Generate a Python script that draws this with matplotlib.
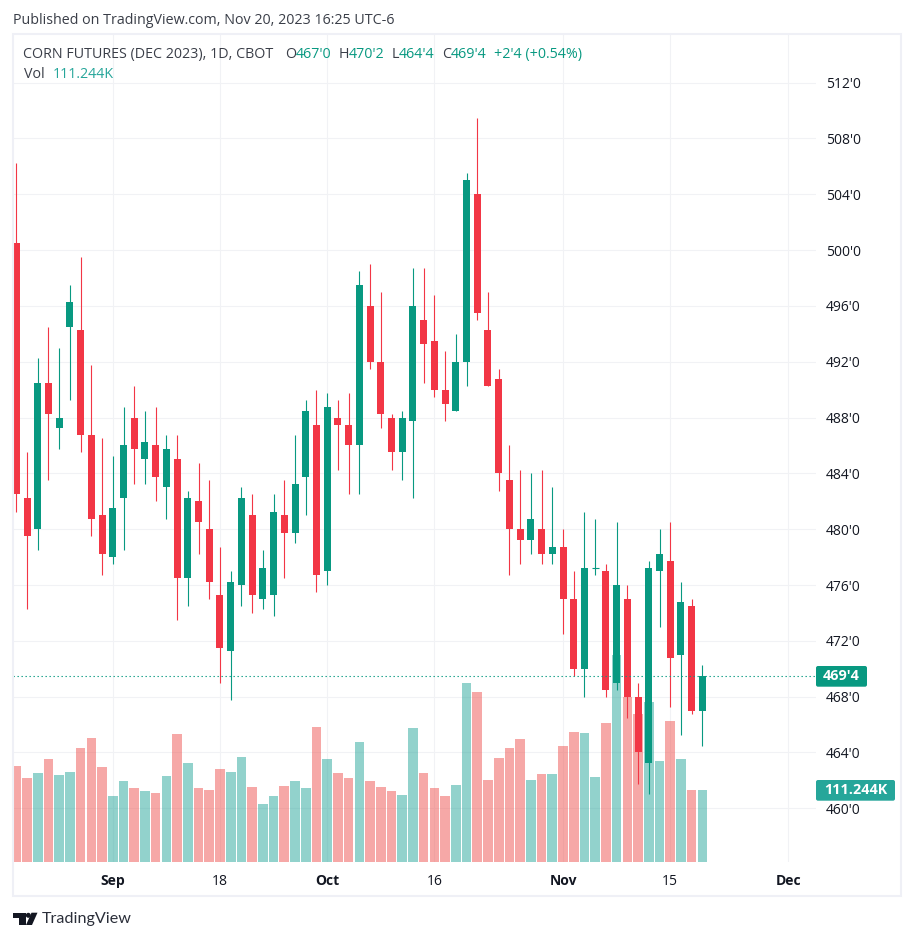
"""Corn futures (Dec 2023) daily candles with volume, TradingView snapshot style."""

import matplotlib
matplotlib.use("Agg")
import matplotlib.pyplot as plt
from matplotlib.patches import Circle, FancyBboxPatch, Polygon, Rectangle

plt.rcParams["font.family"] = ["Open Sans", "DejaVu Sans"]

# ── Data ──────────────────────────────────────────────────────────────────────
opens = [
    500.5, 482.25, 480, 490.5, 487.25, 494.5, 494.25, 486.75, 481, 478,
    482.25, 488, 485, 486, 483, 485, 476.5, 482, 480, 475.25,
    471.25, 476, 481, 475, 475.25, 481, 479.75, 483.75, 487.5, 477,
    488, 487.5, 486, 496, 492, 488, 485.5, 487.75, 495, 493.5,
    490, 488.5, 492, 504, 494.25, 490.75, 483.5, 480, 479.25, 480,
    478.25, 478.75, 475, 470, 477.25, 477, 469, 475, 468, 463.25,
    477, 477.75, 471, 474.5, 467,
]
highs = [
    506.25, 485.5, 492.25, 494.5, 493, 497.5, 499.5, 491.75, 486.5, 485.25,
    488.75, 490.25, 488.5, 488.75, 486.75, 486.75, 482.75, 484.75, 483.5, 478.75,
    477, 483, 482.5, 478.5, 482.5, 483.5, 486.75, 489.25, 490, 489.75,
    489.25, 489.75, 498.5, 499, 497, 488.25, 488.5, 498.75, 498.75, 496.75,
    492.75, 494, 505.5, 509.5, 497, 491.5, 486, 484.25, 484, 484.25,
    483, 480, 477, 481.25, 480.75, 477.5, 480.5, 476, 469, 477.75,
    480, 480.5, 476.25, 475, 470.25,
]
lows = [
    481.25, 474.25, 478.5, 483.5, 485.75, 489.25, 485.5, 479.5, 476.75, 477.5,
    478.5, 483.25, 483.25, 482, 480.75, 473.5, 474.5, 478.25, 475, 469,
    467.75, 474.5, 474, 474.25, 473.75, 476.5, 479, 481, 475.5, 476,
    484.25, 482.5, 482.5, 491.5, 487.25, 484.25, 483.5, 482.25, 490.5, 489.5,
    487.75, 488.5, 490.25, 495, 490.25, 482.75, 476.75, 477.5, 478.25, 477.5,
    477.5, 472.5, 469.5, 468, 476.75, 468, 468.5, 466.5, 461.75, 461,
    473, 467.25, 465.25, 466.75, 464.5,
]
closes = [
    482.5, 479.5, 490.5, 488.25, 488, 496.25, 486.75, 480.75, 478.25, 481.5,
    486, 485.75, 486.25, 483.75, 485.75, 476.5, 482.25, 480.5, 476.25, 471.5,
    476.25, 482.25, 475.25, 477.25, 481.25, 479.75, 483.25, 488.5, 476.75, 488.75,
    487.5, 486, 497.5, 492, 488.25, 485.5, 488, 496, 493.25, 490,
    489, 492, 505, 495.5, 490.25, 484, 480, 479.25, 480.75, 478.25,
    478.75, 475, 470, 477.25, 477.25, 468.5, 476, 468, 464, 477.25,
    478.25, 470.75, 474.75, 467, 469.5,
]
# thousands of contracts
volumes = [
    148.3, 129.8, 137.5, 159.1, 134.4, 139.1, 176.1, 191.6, 146.8, 102,
    125.1, 114.3, 109.7, 106.6, 132.9, 197.8, 153, 114.3, 111.2, 143.7,
    139.1, 162.2, 115.9, 89.6, 102, 117.4, 125.1, 114.3, 208.6, 159.1,
    137.5, 129.8, 185.4, 125.1, 115.9, 109.7, 103.5, 207, 137.5, 114.3,
    102, 119, 276.6, 262.7, 126.7, 160.7, 176.1, 190, 126.7, 136,
    136, 179.2, 200.9, 199.3, 131.3, 214.8, 319.8, 254.9, 228.7, 247.2,
    156, 217.8, 159.1, 111.0, 111.244,
]
price_ticks = [460, 464, 468, 472, 476, 480, 484, 488, 492, 496, 500, 504, 508, 512]
date_positions = [9, 19, 29, 39, 51, 61, 72]
date_labels = ["Sep", "18", "Oct", "16", "Nov", "15", "Dec"]
date_bold = [True, False, True, False, True, False, True]
last_price = 469.5

# ── Layout, in pixels of the 914x941 picture ──────────────────────────────────
W, H = 914, 941
PANE_LEFT, PANE_RIGHT, PANE_TOP, PANE_BOTTOM = 13.3, 816, 35, 862
FIRST_BAR_X, BAR_STEP = 16.3, 10.72
Y_460, PX_PER_CENT = 808.3, 13.955
PX_PER_KVOL = 1 / 1.545

UP, DOWN = "#089981", "#f23645"
VOL_UP, VOL_DOWN = "#26a69a", "#ef5350"
GRID = "#f1f2f5"
FRAME = "#eff0f6"
TEXT = "#131722"
LEGEND_TEXT = "#3a3e48"

fig = plt.figure(figsize=(W / 100, H / 100), dpi=100, facecolor="white")
rect = [PANE_LEFT / W, 1 - PANE_BOTTOM / H, (PANE_RIGHT - PANE_LEFT) / W, (PANE_BOTTOM - PANE_TOP) / H]

xlim = ((PANE_LEFT - FIRST_BAR_X) / BAR_STEP, (PANE_RIGHT - FIRST_BAR_X) / BAR_STEP)
ylim = (460 - (PANE_BOTTOM - Y_460) / PX_PER_CENT, 460 + (Y_460 - PANE_TOP) / PX_PER_CENT)

# grid and both axes at the back
ax = fig.add_axes(rect)
ax.set_xlim(xlim)
ax.set_ylim(ylim)
ax.yaxis.tick_right()
ax.set_yticks(price_ticks)
ax.set_yticklabels([f"{p}'0" for p in price_ticks], fontsize=10, color=TEXT)
ax.set_xticks(date_positions)
ax.set_xticklabels(date_labels, fontsize=10, color=TEXT)
for label, bold in zip(ax.get_xticklabels(), date_bold):
    label.set_fontweight("bold" if bold else "normal")
ax.tick_params(axis="y", length=0, pad=7.2)
ax.tick_params(axis="x", length=0, pad=8.5)
ax.grid(True, color=GRID, linewidth=0.8)
ax.set_axisbelow(True)
for spine in ax.spines.values():
    spine.set_visible(False)

# volume in the middle
ax_vol = fig.add_axes(rect, sharex=ax)
ax_vol.set_ylim(0, (PANE_BOTTOM - PANE_TOP) / PX_PER_KVOL)
ax_vol.axis("off")
ax_vol.patch.set_visible(False)

# candles on top
ax_c = fig.add_axes(rect, sharex=ax, sharey=ax)
ax_c.axis("off")
ax_c.patch.set_visible(False)

positions = list(range(len(closes)))
vol_colors = [VOL_UP if c >= o else VOL_DOWN for o, c in zip(opens, closes)]
ax_vol.bar(positions, volumes, width=0.9, color=vol_colors, alpha=0.5, linewidth=0)

colors = [UP if c >= o else DOWN for o, c in zip(opens, closes)]
ax_c.vlines(positions, lows, highs, colors=colors, linewidth=0.8)
for i, (o, c, col) in enumerate(zip(opens, closes, colors)):
    if o == c:
        ax_c.hlines(o, i - 0.33, i + 0.33, colors=col, linewidth=0.8)
    else:
        ax_c.bar(i, abs(c - o), bottom=min(o, c), width=0.65, color=col, linewidth=0)
ax_c.hlines(last_price, xlim[0], xlim[1], colors=UP, linewidth=0.8, linestyles=(0, (1.2, 2.4)))

# everything else sits in an overlay measured in pixels
ov = fig.add_axes([0, 0, 1, 1])
ov.set_xlim(0, W)
ov.set_ylim(H, 0)
ov.axis("off")
ov.patch.set_visible(False)

ov.add_patch(Rectangle((13, 34), 888, 862, fill=False, edgecolor=FRAME, linewidth=1.5))


def put(x, y, s, color=TEXT, size=10.3, **kw):
    ov.text(x, y, s, color=color, fontsize=size, va="center", ha=kw.pop("ha", "left"), **kw)


put(13, 20, "Published on TradingView.com, Nov 20, 2023 16:25 UTC-6", color=LEGEND_TEXT)
put(23, 54, "CORN FUTURES (DEC 2023), 1D, CBOT", color=LEGEND_TEXT)
for x, s, col in [
    (285, "O", LEGEND_TEXT), (296, "467'0", UP),
    (339, "H", LEGEND_TEXT), (349, "470'2", UP),
    (392, "L", LEGEND_TEXT), (399, "464'4", UP),
    (442, "C", LEGEND_TEXT), (451, "469'4", UP),
    (494, "+2'4 (+0.54%)", UP),
]:
    put(x, 54, s, color=col)
put(24, 74, "Vol", color=LEGEND_TEXT)
put(53, 74, "111.244K", color=VOL_UP)

# last price and last volume tags
for x0, y0, w, h, col, s in [
    (816, 666, 51, 20.7, UP, "469'4"),
    (816, 780, 79, 20.7, VOL_UP, "111.244K"),
]:
    ov.add_patch(FancyBboxPatch((x0, y0), w, h, boxstyle="round,pad=0,rounding_size=2",
                                facecolor=col, edgecolor="none"))
    put(x0 + w / 2, y0 + h / 2, s, color="white", size=10.4, ha="center", fontweight="bold")

# TradingView mark
LOGO = "#131722"
ov.add_patch(Polygon([(13, 912.7), (25.5, 912.7), (25.5, 925), (19, 925), (19, 918), (13, 918)],
                     facecolor=LOGO, edgecolor="none"))
ov.add_patch(Circle((28.3, 915.3), 2.5, facecolor=LOGO, edgecolor="none"))
ov.add_patch(Polygon([(31.5, 912.7), (37.5, 912.7), (32, 925), (26, 925)], facecolor=LOGO, edgecolor="none"))
put(42, 919.5, "TradingView", color="#2a2e39", size=11.6, fontfamily="Lato")

fig.savefig("out.png", dpi=100, facecolor="white")
plt.close(fig)
